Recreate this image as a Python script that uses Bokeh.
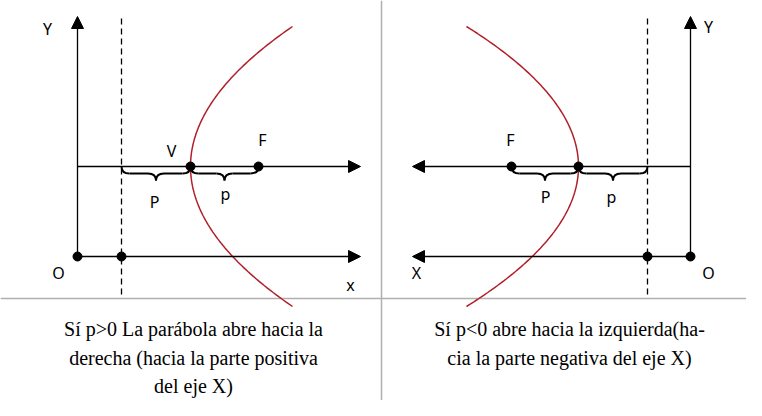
from bokeh.plotting import figure
from bokeh.models import Arrow, NormalHead, Range1d
from bokeh.core.properties import value
from bokeh.embed import file_html
from bokeh.resources import INLINE
import numpy as np

# diagram geometry (in picture pixels, y grows downward)
axis_x = [77, 690]
axis_line_y = 256
focus_line_y = 166
directrix_x = [121, 647]
vertex_x = [190, 578]
focus_x = [258, 511]
parab_end_dx = [102, -112]   # horizontal reach at the top / bottom ends
parab_half_h = 140

left_caption = ["Sí p>0 La parábola abre hacia la",
                "derecha (hacia la parte positiva",
                "del eje X)"]
right_caption = ["Sí p<0 abre hacia la izquierda(ha-",
                 "cia la parte negativa del eje X)"]

p = figure(width=746, height=400, output_backend="svg", toolbar_location=None,
           x_range=Range1d(0, 746), y_range=Range1d(400, 0), min_border=0)
p.axis.visible = False
p.grid.visible = False
p.outline_line_color = None

sans = value("Noto Sans")
serif = value("Liberation Serif")

# panel dividers
p.line([381, 381], [0, 416], color="#b0b0b0", line_width=1.5)
p.line([0, 762], [298, 298], color="#b0b0b0", line_width=1.5)


def arrow(x0, y0, x1, y1):
    p.add_layout(Arrow(end=NormalHead(size=12, fill_color="black", line_color="black"),
                       x_start=x0, y_start=y0, x_end=x1, y_end=y1,
                       line_color="black", line_width=1.3))


def brace(x0, x1, y):
    m = (x0 + x1) / 2
    d = 7
    kw = dict(color="black", line_width=2)
    p.quadratic(x0=[x0], y0=[y], x1=[x0 + 8], y1=[y + d], cx=[x0], cy=[y + d], **kw)
    p.line([x0 + 8, m - 8], [y + d, y + d], **kw)
    p.quadratic(x0=[m - 8], y0=[y + d], x1=[m], y1=[y + 2 * d], cx=[m], cy=[y + d], **kw)
    p.quadratic(x0=[m + 8], y0=[y + d], x1=[m], y1=[y + 2 * d], cx=[m], cy=[y + d], **kw)
    p.line([m + 8, x1 - 8], [y + d, y + d], **kw)
    p.quadratic(x0=[x1 - 8], y0=[y + d], x1=[x1], y1=[y], cx=[x1], cy=[y + d], **kw)


for i in range(2):
    ax, dx, vx, fx = axis_x[i], directrix_x[i], vertex_x[i], focus_x[i]
    far = 360 if i == 0 else 412
    arrow(ax, axis_line_y, ax, 16)
    arrow(ax, axis_line_y, far, axis_line_y)
    arrow(ax, focus_line_y, far, focus_line_y)
    p.line([dx, dx], [18, 298], color="black", line_width=1.3, line_dash="6 4")
    ys = np.linspace(-parab_half_h, parab_half_h, 121)
    xs = vx + parab_end_dx[i] * (ys / parab_half_h) ** 2
    p.line(xs, ys + focus_line_y, color="#b0202a", line_width=1.5)
    p.scatter([ax, dx], [axis_line_y] * 2, size=9, color="black")
    p.scatter([vx, fx], [focus_line_y] * 2, size=9, color="black")
    brace(min(dx, vx), max(dx, vx), focus_line_y)
    brace(min(vx, fx), max(vx, fx), focus_line_y)

labels = [("Y", 47, 28), ("O", 58, 272), ("x", 350, 284), ("V", 171, 150), ("F", 262, 139),
          ("P", 154, 201), ("p", 225, 193),
          ("Y", 708, 26), ("O", 708, 272), ("X", 416, 272), ("F", 510, 139),
          ("P", 545, 196), ("p", 611, 196)]
p.text([l[1] for l in labels], [l[2] for l in labels], text=[l[0] for l in labels],
       text_font=sans, text_font_size="16px", text_align="center", text_baseline="middle")

p.text([193] * 3, [328, 357, 385], text=left_caption, text_font=serif,
       text_font_size="20px", text_align="center", text_baseline="middle")
p.text([569] * 2, [328, 357], text=right_caption, text_font=serif,
       text_font_size="20px", text_align="center", text_baseline="middle")

open("out.html", "w").write(file_html(p, INLINE))
